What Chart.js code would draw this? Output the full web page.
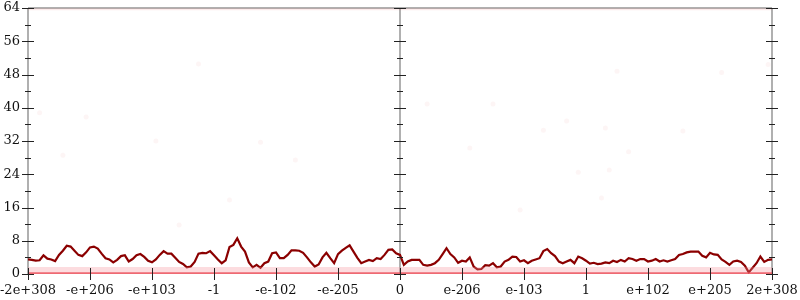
<!DOCTYPE html>
<html>
<head>
<meta charset="utf-8">
<script src="https://cdn.jsdelivr.net/npm/chart.js@4.4.1/dist/chart.umd.min.js"></script>
<style>
  html, body { margin: 0; padding: 0; background: #fff; }
  #wrap { width: 800px; height: 300px; }
</style>
</head>
<body>
<div id="wrap"><canvas id="histChart"></canvas></div>
<script>
// x axis: 192 bins, a labelled tick every 16 bins
const xLabels = ['-2e+308', '-e+206', '-e+103', '-1', '-e-102', '-e-205', '0',
  'e-206', 'e-103', '1', 'e+102', 'e+205', '2e+308'];
const yTicks = [0, 8, 16, 24, 32, 40, 48, 56, 64];
const binsPerTick = 16;

// smoothed count per bin (dark red line)
const density = [
  3.5, 3.4, 3.2, 3.3, 4.5, 3.7, 3.5, 3.1, 4.6, 5.6, 6.8, 6.6, 5.6, 4.6, 4.3, 5.2,
  6.4, 6.6, 6.1, 4.9, 3.8, 3.5, 2.8, 3.4, 4.3, 4.5, 3.0, 3.6, 4.5, 4.8, 4.1, 3.2,
  2.8, 3.5, 4.6, 5.5, 4.9, 4.9, 3.9, 2.9, 2.4, 1.6, 1.8, 2.9, 4.9, 5.1, 5.0, 5.5,
  4.5, 3.5, 2.6, 3.3, 6.5, 7.0, 8.6, 6.6, 5.4, 2.8, 1.6, 2.2, 1.5, 2.6, 3.0, 5.0,
  5.2, 3.8, 3.8, 4.6, 5.7, 5.7, 5.6, 5.1, 4.0, 2.8, 1.8, 2.3, 4.0, 5.1, 3.8, 2.6,
  4.8, 5.6, 6.3, 6.9, 5.4, 3.9, 2.6, 3.0, 3.4, 3.1, 3.8, 3.6, 4.6, 5.8, 5.9, 5.0,
  4.6, 2.2, 3.0, 3.4, 3.4, 3.4, 2.2, 2.0, 2.2, 2.6, 3.4, 4.8, 6.2, 4.8, 4.0, 2.7,
  3.2, 3.0, 4.0, 1.8, 1.1, 1.2, 2.1, 2.0, 2.6, 1.6, 1.8, 3.0, 3.4, 4.2, 4.1, 3.0,
  3.3, 2.6, 3.2, 3.5, 3.8, 5.5, 6.0, 5.0, 4.3, 3.0, 2.6, 3.0, 3.4, 2.6, 4.2, 3.8,
  3.2, 2.5, 2.7, 2.4, 2.5, 2.8, 2.6, 3.2, 2.9, 3.4, 3.0, 3.8, 3.6, 3.2, 3.6, 3.6,
  3.0, 3.2, 3.6, 3.0, 3.3, 3.0, 3.3, 3.6, 4.6, 4.8, 5.2, 5.4, 5.4, 5.4, 4.4, 4.0,
  5.1, 4.7, 4.6, 3.5, 2.9, 2.2, 3.0, 3.2, 2.9, 2.0, 0.4, 1.5, 2.6, 4.2, 2.9, 3.4,
  3.5,
];

// faint individual samples away from the floor
const strayX = [44, 152, 179, 191, 15, 3, 103, 120, 133, 139, 149, 114, 142, 150, 33, 9, 60, 155, 169, 69, 52, 148, 127, 39];
const strayY = [50.5, 48.8, 48.5, 50.4, 37.8, 38.8, 40.9, 40.9, 34.6, 36.8, 35.1, 30.3, 24.5, 25.0, 32.0, 28.6, 31.7, 29.4, 34.4, 27.4, 17.8, 18.3, 15.4, 11.8];

// dense sample floor and ceiling
const floorLevel = 0.15;
const floorBand = 1.7;
const ceilingLevel = 63.7;

const lastBin = density.length - 1;
const span = (y) => [{ x: 0, y }, { x: lastBin, y }];

const axesDecor = {
  id: 'axesDecor',
  beforeDatasetsDraw(chart) {
    const { ctx, chartArea: { left, right, top, bottom }, scales: { x, y } } = chart;
    ctx.save();
    // grey frame lines: left, middle, right, top
    ctx.strokeStyle = '#b0b0b0';
    ctx.lineWidth = 2;
    ctx.beginPath();
    [0, lastBin / 2, lastBin].forEach((v) => {
      const px = Math.round(x.getPixelForValue(v));
      ctx.moveTo(px, top);
      ctx.lineTo(px, bottom);
    });
    ctx.moveTo(left, Math.round(y.getPixelForValue(64)));
    ctx.lineTo(right, Math.round(y.getPixelForValue(64)));
    ctx.stroke();
    ctx.restore();
  },
  afterDatasetsDraw(chart) {
    const { ctx, chartArea: { bottom }, scales: { x, y } } = chart;
    ctx.save();
    ctx.strokeStyle = '#222';
    ctx.lineWidth = 1;
    ctx.beginPath();
    // y ticks on the three vertical axes
    [0, lastBin / 2, lastBin].forEach((v) => {
      const px = Math.round(x.getPixelForValue(v));
      yTicks.forEach((t) => {
        const py = Math.round(y.getPixelForValue(t)) + 0.5;
        ctx.moveTo(px - 6, py);
        ctx.lineTo(px + 6, py);
        if (t < 64) {
          const pm = Math.round(y.getPixelForValue(t + 4)) + 0.5;
          ctx.moveTo(px - 3, pm);
          ctx.lineTo(px + 3, pm);
        }
      });
    });
    // x ticks
    xLabels.forEach((lbl, i) => {
      const px = Math.round(x.getPixelForValue(i * binsPerTick)) + 0.5;
      ctx.moveTo(px, bottom - 6);
      ctx.lineTo(px, bottom + 6);
    });
    ctx.stroke();
    ctx.restore();
  },
};

Chart.defaults.font.family = "'DejaVu Serif', serif";
Chart.defaults.font.size = 13;
Chart.defaults.color = '#111';

new Chart(document.getElementById('histChart'), {
  type: 'scatter',
  data: {
    datasets: [
      {
        data: span(floorBand),
        showLine: true,
        pointRadius: 0,
        borderWidth: 0,
        borderColor: 'rgba(0,0,0,0)',
        backgroundColor: 'rgba(245,140,150,0.3)',
        fill: 'origin',
      },
      {
        data: span(floorLevel),
        showLine: true,
        pointRadius: 0,
        borderWidth: 2.5,
        borderColor: 'rgba(230,50,60,0.8)',
      },
      {
        data: span(ceilingLevel),
        showLine: true,
        pointRadius: 0,
        borderWidth: 2,
        borderColor: 'rgba(235,120,120,0.15)',
      },
      {
        data: strayX.map((v, i) => ({ x: v, y: strayY[i] })),
        pointRadius: 2.5,
        pointBorderWidth: 0,
        backgroundColor: 'rgba(230,120,120,0.07)',
      },
      {
        data: density.map((v, i) => ({ x: i, y: v })),
        showLine: true,
        pointRadius: 0,
        borderWidth: 2.2,
        borderColor: '#8b0000',
        tension: 0,
      },
    ],
  },
  options: {
    responsive: true,
    maintainAspectRatio: false,
    animation: false,
    layout: { padding: { top: 8, right: 28, left: 0, bottom: 0 } },
    plugins: { legend: { display: false }, tooltip: { enabled: false } },
    scales: {
      x: {
        type: 'linear',
        min: 0,
        max: lastBin,
        grid: { display: false, drawTicks: false },
        border: { display: false },
        afterFit: (scale) => {
          scale.height = 26;
          scale.paddingLeft = 0;
          scale.paddingRight = 0;
        },
        afterBuildTicks: (scale) => {
          scale.ticks = xLabels.map((l, i) => ({ value: i * binsPerTick }));
        },
        ticks: {
          autoSkip: false,
          maxRotation: 0,
          padding: 9,
          callback: (value) => xLabels[Math.round(value / binsPerTick)],
        },
      },
      y: {
        min: 0,
        max: 64,
        grid: { display: false, drawTicks: false },
        border: { display: false },
        afterFit: (scale) => {
          scale.width = 28;
          scale.paddingTop = 0;
          scale.paddingBottom = 0;
        },
        afterBuildTicks: (scale) => {
          scale.ticks = yTicks.map((v) => ({ value: v }));
        },
        ticks: { padding: 8 },
      },
    },
  },
  plugins: [axesDecor],
});
</script>
</body>
</html>
